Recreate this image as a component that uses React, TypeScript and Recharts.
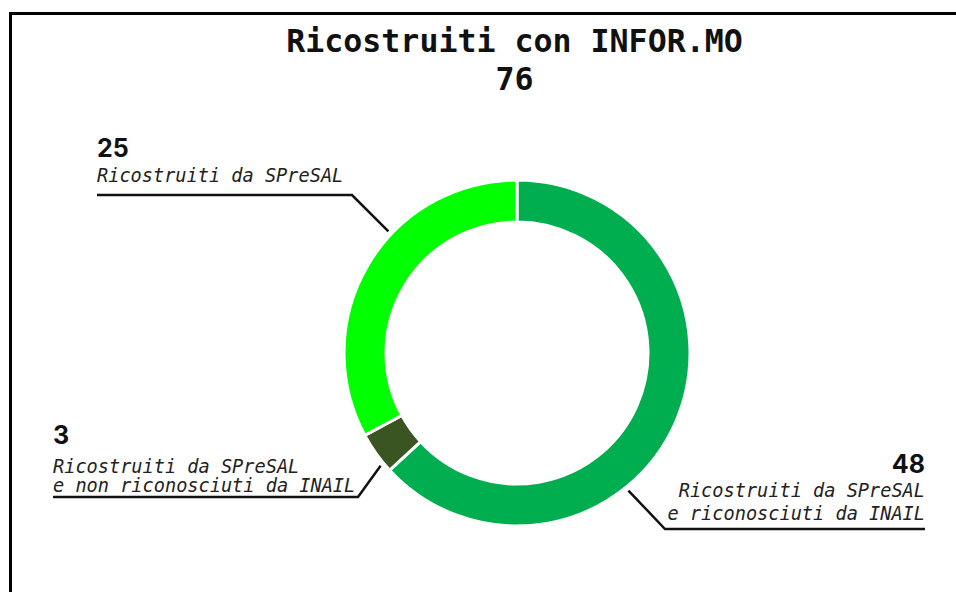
import React from "react";
import { PieChart, Pie, Cell } from "recharts";

// slices, clockwise from 12 o'clock
const CATEGORIES = [
  "Ricostruiti da SPreSAL e riconosciuti da INAIL",
  "Ricostruiti da SPreSAL e non riconosciuti da INAIL",
  "Ricostruiti da SPreSAL",
];
const VALUES = [48, 3, 25];
const LABEL_LINES = [
  ["Ricostruiti da SPreSAL", "e riconosciuti da INAIL"],
  ["Ricostruiti da SPreSAL", "e non riconosciuti da INAIL"],
  ["Ricostruiti da SPreSAL"],
];
const TITLE = "Ricostruiti con INFOR.MO";

const COLORS = ["#00AE4F", "#3A5422", "#00FF00"];

// leader-line layout for each label
const LABEL_LAYOUT = [
  { angle: 309, elbowX: 665, lineY: 529, endX: 925, numY: 473, textY: 497, gap: 23, side: "right" },
  { angle: 219.6, elbowX: 358, lineY: 497, endX: 53, numY: 444, textY: 473, gap: 19, side: "left" },
  { angle: 136.6, elbowX: 352, lineY: 195, endX: 97, numY: 157, textY: 182, gap: 21, side: "left" },
];

const data = CATEGORIES.map((name, i) => ({ name, value: VALUES[i] }));
const total = VALUES.reduce((a, b) => a + b, 0);

const MONO = "'DejaVu Sans Mono', monospace";
const SANS = "Inter, Roboto, sans-serif";
const RAD = Math.PI / 180;

function renderLabel(props: any) {
  const { cx, cy, outerRadius, index, value } = props;
  const l = LABEL_LAYOUT[index];
  const r = outerRadius + 4;
  const px = cx + r * Math.cos(l.angle * RAD);
  const py = cy - r * Math.sin(l.angle * RAD);
  const anchor = l.side === "right" ? "end" : "start";
  return (
    <g key={`lbl-${index}`}>
      <polyline
        points={`${px},${py} ${l.elbowX},${l.lineY} ${l.endX},${l.lineY}`}
        fill="none"
        stroke="#111"
        strokeWidth={2.5}
      />
      <text
        x={l.endX}
        y={l.numY}
        textAnchor={anchor}
        fontFamily={SANS}
        fontWeight={700}
        fontSize={25}
        fill="#111"
      >
        {value}
      </text>
      {LABEL_LINES[index].map((line, j) => (
        <text
          key={j}
          x={l.endX}
          y={l.textY + j * l.gap}
          textAnchor={anchor}
          fontFamily={MONO}
          fontStyle="italic"
          fontSize={18.6}
          fill="#222"
        >
          {line}
        </text>
      ))}
    </g>
  );
}

export default function App() {
  return (
    <div
      style={{
        position: "fixed",
        left: 0,
        top: 0,
        width: 956,
        height: 592,
        overflow: "hidden",
        background: "#fff",
      }}
    >
      <div
        style={{
          position: "absolute",
          left: 9,
          top: 12,
          width: 1100,
          height: 800,
          border: "3px solid #000",
        }}
      />
      <div
        style={{
          position: "absolute",
          left: 0,
          width: 1029,
          top: 22,
          textAlign: "center",
          fontFamily: MONO,
          fontWeight: 700,
          fontSize: 31.6,
          lineHeight: "38px",
          color: "#111",
        }}
      >
        <div>{TITLE}</div>
        <div>{total}</div>
      </div>
      <div style={{ position: "absolute", left: 0, top: 0 }}>
        <PieChart width={956} height={592} margin={{ top: 0, right: 0, bottom: 0, left: 0 }}>
          <Pie
            data={data}
            dataKey="value"
            nameKey="name"
            cx={517}
            cy={353}
            innerRadius={131}
            outerRadius={173}
            startAngle={90}
            endAngle={-270}
            stroke="#fff"
            strokeWidth={3}
            label={renderLabel}
            labelLine={false}
            isAnimationActive={false}
          >
            {data.map((_, i) => (
              <Cell key={i} fill={COLORS[i]} />
            ))}
          </Pie>
        </PieChart>
      </div>
    </div>
  );
}
